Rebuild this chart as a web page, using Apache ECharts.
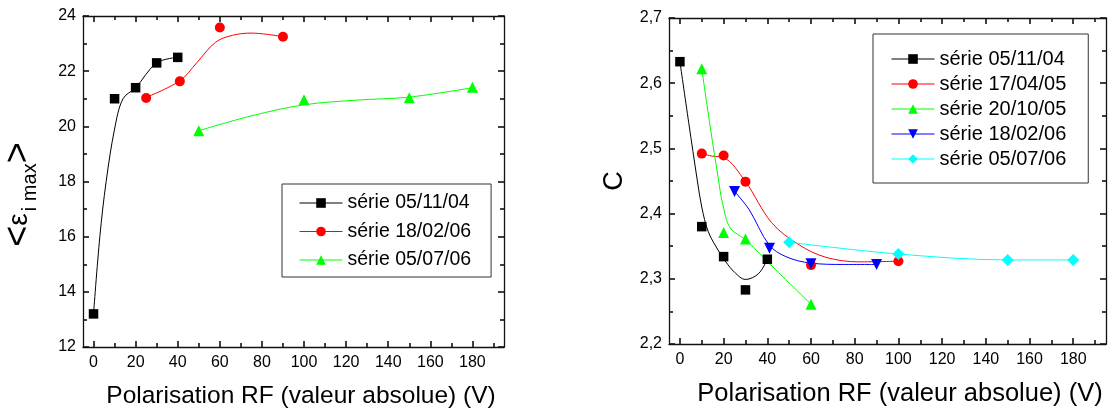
<!DOCTYPE html>
<html>
<head>
<meta charset="utf-8">
<script src="https://cdn.jsdelivr.net/npm/echarts@6/dist/echarts.min.js"></script>
<style>
html,body{margin:0;padding:0;background:#fff;}
#c{width:1109px;height:412px;}
</style>
</head>
<body>
<div id="c"></div>
<script>
// ---------- tick values ----------
const xMajorTicks = [0, 20, 40, 60, 80, 100, 120, 140, 160, 180];
const xMinorTicks = [10, 30, 50, 70, 90, 110, 130, 150, 170, 190];
const leftYMajor = [12, 14, 16, 18, 20, 22, 24];
const leftYMinor = [13, 15, 17, 19, 21, 23];
const rightYMajor = [2.2, 2.3, 2.4, 2.5, 2.6, 2.7];
const rightYMinor = [2.25, 2.35, 2.45, 2.55, 2.65];

// ---------- left chart: <eps_i max> ----------
const leftNames = ['série 05/11/04', 'série 18/02/06', 'série 05/07/06'];
const leftBlackPts = [[0, 13.2], [10, 21.0], [20, 21.4], [30, 22.3], [40, 22.5]];
const leftBlackCurve = [[0, 13.2], [3, 16.0], [6, 18.0], [10, 19.9], [14, 21.0], [20, 21.4], [30, 22.3], [40, 22.5]];
const leftRedPts = [[25, 21.03], [41, 21.63], [60, 23.58], [90, 23.25]];
const leftRedCurve = [[25, 21.05], [41, 21.65], [49, 22.3], [58, 23.05], [66, 23.3], [75, 23.38], [90, 23.25]];
const leftGreenPts = [[50, 19.84], [100, 20.96], [150, 21.04], [180, 21.42]];
const leftGreenCurve = [[50, 19.84], [75, 20.38], [100, 20.78], [125, 20.95], [150, 21.06], [180, 21.4]];

// ---------- right chart: C ----------
const rightNames = ['série 05/11/04', 'série 17/04/05', 'série 20/10/05', 'série 18/02/06', 'série 05/07/06'];
const rBlackPts = [[0, 2.633], [10, 2.38], [20, 2.334], [30, 2.283], [40, 2.33]];
const rBlackCurve = [[0, 2.633], [4, 2.54], [8, 2.45], [10, 2.41], [13, 2.372], [18, 2.341], [21, 2.326], [25, 2.31], [30, 2.299], [36, 2.308], [40, 2.33]];
const rRedPts = [[10, 2.492], [20, 2.489], [30, 2.449], [60, 2.321], [100, 2.327]];
const rRedCurve = [[10, 2.492], [15, 2.488], [20, 2.486], [30, 2.449], [42, 2.386], [54.6, 2.352], [66.8, 2.333], [82, 2.326], [100, 2.327]];
const rGreenPts = [[10, 2.622], [20, 2.371], [30, 2.361], [60, 2.261]];
const rGreenCurve = [[10, 2.622], [14, 2.53], [17.5, 2.455], [19.5, 2.416], [23, 2.378], [30, 2.36], [45, 2.31], [60, 2.261]];
const rBluePts = [[25, 2.434], [41, 2.347], [60, 2.323], [90, 2.322]];
const rBlueCurve = [[25, 2.434], [31.7, 2.406], [40.8, 2.352], [48.5, 2.334], [60, 2.324], [75, 2.322], [90, 2.322]];
const rCyanPts = [[50, 2.356], [100, 2.338], [150, 2.329], [180, 2.329]];
const rCyanCurve = [[50, 2.356], [100, 2.338], [150, 2.329], [180, 2.329]];

const FONT = 'Liberation Sans';
const AX = '#111111';
const MAJ = 6, MIN = 4;

// one axis per side per grid; minor ticks live on an overlay grid with the same rectangle
function axis(grid, pos, min, max, ticks, len, lineShow, extra) {
  return Object.assign({
    gridIndex: grid, type: 'value', position: pos, min: min, max: max,
    splitLine: {show: false},
    axisLine: {show: lineShow, onZero: false, lineStyle: {color: AX, width: 1.3}},
    axisTick: {show: true, inside: true, length: len, customValues: ticks, lineStyle: {color: AX, width: 1.6}},
    axisLabel: {show: false}
  }, extra || {});
}

const xName = 'Polarisation RF (valeur absolue) (V)';
const xLabel = {show: true, customValues: xMajorTicks, margin: 8, fontFamily: FONT, fontSize: 16, color: '#000'};

const xAxes = [
  // grid 0 (left chart)
  axis(0, 'bottom', -5, 195, xMajorTicks, MAJ, true, {
    axisLabel: xLabel, name: xName, nameLocation: 'middle', nameGap: 37,
    nameTextStyle: {fontFamily: FONT, fontSize: 24.5, color: '#000', padding: [0, 0, 0, 15]}
  }),
  axis(0, 'top', -5, 195, xMajorTicks, MAJ, true),
  // grid 1 (right chart)
  axis(1, 'bottom', -5, 195, xMajorTicks, MAJ, true, {
    axisLabel: xLabel, name: xName, nameLocation: 'middle', nameGap: 37,
    nameTextStyle: {fontFamily: FONT, fontSize: 25.5, color: '#000', padding: [0, 0, 0, 25]}
  }),
  axis(1, 'top', -5, 195, xMajorTicks, MAJ, true),
  // minor overlays
  axis(2, 'bottom', -5, 195, xMinorTicks, MIN, false),
  axis(2, 'top', -5, 195, xMinorTicks, MIN, false),
  axis(3, 'bottom', -5, 195, xMinorTicks, MIN, false),
  axis(3, 'top', -5, 195, xMinorTicks, MIN, false)
];

const yAxes = [
  axis(0, 'left', 12, 24, leftYMajor, MAJ, true, {
    axisLabel: {show: true, customValues: leftYMajor, margin: 7, fontFamily: FONT, fontSize: 16, color: '#000'},
    name: '{b|<}{e|ε}{s|i max}{b|>}', nameLocation: 'middle', nameRotate: 90, nameGap: 43,
    nameTextStyle: {
      fontFamily: FONT, color: '#000', padding: [0, 26, 0, 0],
      rich: {
        b: {fontFamily: FONT, fontSize: 36, color: '#000'},
        e: {fontFamily: FONT, fontSize: 28, color: '#000'},
        s: {fontFamily: FONT, fontSize: 20, color: '#000', padding: [22, 0, 0, 2]}
      }
    }
  }),
  axis(0, 'right', 12, 24, leftYMajor, MAJ, true),
  axis(1, 'left', 2.2, 2.7, rightYMajor, MAJ, true, {
    axisLabel: {show: true, customValues: rightYMajor, margin: 7, fontFamily: FONT, fontSize: 16, color: '#000',
      formatter: v => v.toFixed(1).replace('.', ',')},
    name: 'C', nameLocation: 'middle', nameRotate: 90, nameGap: 41,
    nameTextStyle: {fontFamily: FONT, fontSize: 27, color: '#000'}
  }),
  axis(1, 'right', 2.2, 2.7, rightYMajor, MAJ, true),
  axis(2, 'left', 12, 24, leftYMinor, MIN, false),
  axis(2, 'right', 12, 24, leftYMinor, MIN, false),
  axis(3, 'left', 2.2, 2.7, rightYMinor, MIN, false),
  axis(3, 'right', 2.2, 2.7, rightYMinor, MIN, false)
];

function pair(name, color, symbol, size, pts, curve, xi, yi) {
  return [
    {
      type: 'line', name: '_c_' + name + xi, xAxisIndex: xi, yAxisIndex: yi,
      data: curve, smooth: 0.35, showSymbol: false, silent: true, z: 2,
      lineStyle: {color: color, width: 1}, itemStyle: {color: color}
    },
    {
      type: 'line', name: name, xAxisIndex: xi, yAxisIndex: yi,
      data: pts, symbol: symbol, symbolSize: size, showSymbol: true, z: 3,
      lineStyle: {color: color, width: 1, opacity: 0},
      itemStyle: {color: color, opacity: 1}
    }
  ];
}

const BLACK = '#000000', RED = '#ff0000', GREEN = '#00ff00', BLUE = '#0000ff', CYAN = '#00ffff';
const SQ = 'rect', CI = 'circle', TR = 'triangle', INV = 'path://M0,0 L10,0 L5,9 Z', DIA = 'diamond';
const R = ' '; // suffix keeping right-chart legend names distinct from left-chart ones

const series = [].concat(
  pair(leftNames[0], BLACK, SQ, 9.5, leftBlackPts, leftBlackCurve, 0, 0),
  pair(leftNames[1], RED, CI, 10, leftRedPts, leftRedCurve, 0, 0),
  pair(leftNames[2], GREEN, TR, 11, leftGreenPts, leftGreenCurve, 0, 0),
  pair(rightNames[0] + R, BLACK, SQ, 9.5, rBlackPts, rBlackCurve, 2, 2),
  pair(rightNames[1] + R, RED, CI, 10, rRedPts, rRedCurve, 2, 2),
  pair(rightNames[2] + R, GREEN, TR, 11, rGreenPts, rGreenCurve, 2, 2),
  pair(rightNames[3] + R, BLUE, INV, 11, rBluePts, rBlueCurve, 2, 2),
  pair(rightNames[4] + R, CYAN, DIA, 12, rCyanPts, rCyanCurve, 2, 2)
);

const legendCommon = {
  orient: 'vertical',
  itemWidth: 43, itemHeight: 12,
  borderColor: '#333', borderWidth: 1, borderRadius: 0,
  backgroundColor: '#fff',
  lineStyle: {opacity: 1, width: 1},
  itemStyle: {opacity: 1},
  selectedMode: false
};

const leftRect = {left: 83, top: 16, width: 421, height: 331};
const rightRect = {left: 669, top: 18, width: 437, height: 326};

const option = {
  animation: false,
  backgroundColor: '#fff',
  grid: [leftRect, rightRect, leftRect, rightRect].map(r => Object.assign({containLabel: false, outerBoundsMode: 'none'}, r)),
  xAxis: xAxes,
  yAxis: yAxes,
  legend: [
    Object.assign({}, legendCommon, {
      data: leftNames, left: 282, top: 184,
      padding: [9, 20, 7, 17], itemGap: 8.5,
      textStyle: {fontFamily: FONT, fontSize: 19.5, color: '#000'}
    }),
    Object.assign({}, legendCommon, {
      data: rightNames.map(n => n + R),
      left: 873, top: 34,
      padding: [15, 22, 14, 18], itemGap: 5,
      formatter: n => n.trim(),
      textStyle: {fontFamily: FONT, fontSize: 20, color: '#000'}
    })
  ],
  series: series
};

const chart = echarts.init(document.getElementById('c'));
chart.setOption(option);
</script>
</body>
</html>
